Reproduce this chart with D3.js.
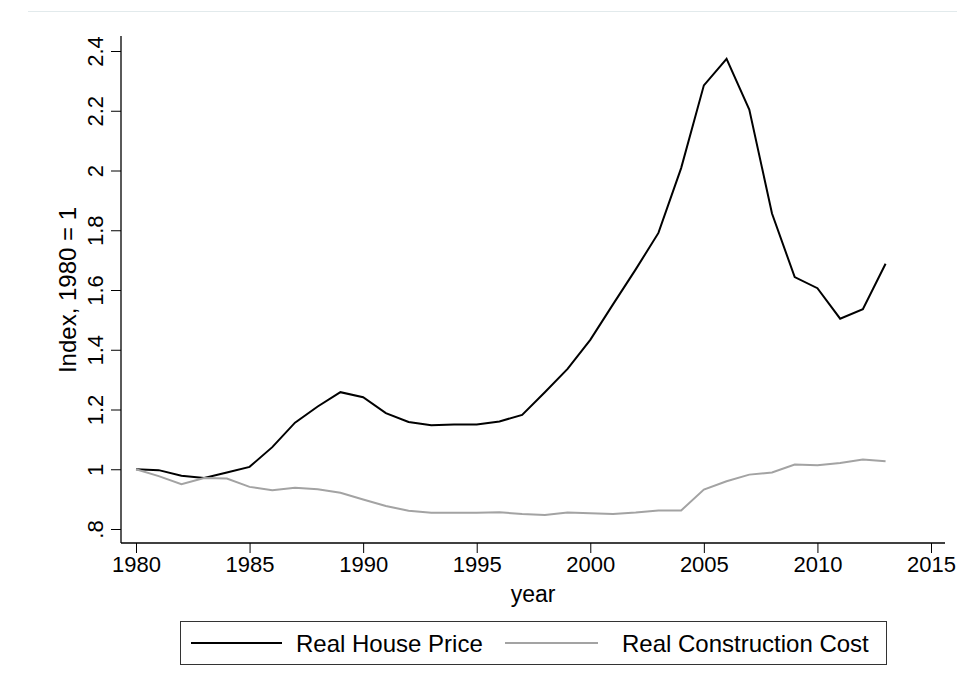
<!DOCTYPE html>
<html>
<head>
<meta charset="utf-8">
<script src="https://cdn.jsdelivr.net/npm/d3@7"></script>
<style>
  html, body { margin: 0; padding: 0; background: #fff; }
  svg { display: block; font-family: "Liberation Sans", Arial, sans-serif; }
</style>
</head>
<body>
<svg id="chart" width="957" height="689"></svg>
<script>
// ---- data ----
const years = [1980,1981,1982,1983,1984,1985,1986,1987,1988,1989,1990,1991,1992,1993,1994,1995,1996,1997,1998,1999,2000,2001,2002,2003,2004,2005,2006,2007,2008,2009,2010,2011,2012,2013];
const housePrice = [1.000,0.997,0.978,0.971,0.989,1.008,1.074,1.156,1.210,1.258,1.241,1.188,1.158,1.147,1.150,1.150,1.160,1.182,1.258,1.336,1.433,1.552,1.669,1.791,2.008,2.285,2.374,2.204,1.856,1.643,1.606,1.504,1.536,1.688];
const constructionCost = [1.000,0.977,0.950,0.971,0.969,0.941,0.930,0.938,0.933,0.921,0.899,0.877,0.861,0.854,0.854,0.854,0.856,0.850,0.847,0.855,0.853,0.850,0.855,0.862,0.862,0.932,0.960,0.982,0.989,1.016,1.013,1.021,1.033,1.027];
const xTicks = [1980,1985,1990,1995,2000,2005,2010,2015];
const yTicks = [0.8,1.0,1.2,1.4,1.6,1.8,2.0,2.2,2.4];
const yTickLabels = [".8","1","1.2","1.4","1.6","1.8","2","2.2","2.4"];
const seriesNames = ["Real House Price","Real Construction Cost"];
const seriesColors = ["#000000","#a3a3a3"];

// ---- layout ----
const svg = d3.select("#chart");
const plot = {left: 121, right: 945, top: 36, bottom: 543};
const x = d3.scaleLinear().domain([1980, 2015]).range([136, 931]);
const y = d3.scaleLinear().domain([0.8, 2.4]).range([529, 51]);
const FONT = "'Liberation Sans', Arial, sans-serif";

// faint top border line
svg.append("line").attr("x1", 28).attr("x2", 957).attr("y1", 11.5).attr("y2", 11.5)
  .attr("stroke", "#e2eaec").attr("stroke-width", 1);

// axis lines
svg.append("line").attr("x1", plot.left).attr("x2", plot.left).attr("y1", plot.top).attr("y2", plot.bottom)
  .attr("stroke", "#000").attr("stroke-width", 1.3);
svg.append("line").attr("x1", plot.left).attr("x2", plot.right).attr("y1", plot.bottom).attr("y2", plot.bottom)
  .attr("stroke", "#000").attr("stroke-width", 1.3);

// y axis
const yAxis = svg.append("g").attr("transform", `translate(${plot.left},0)`)
  .call(d3.axisLeft(y).tickValues(yTicks).tickSize(10)
    .tickFormat((d, i) => yTickLabels[i]));
yAxis.select(".domain").remove();
yAxis.selectAll(".tick line").attr("stroke", "#000").attr("stroke-width", 1);
yAxis.selectAll(".tick text")
  .attr("x", null).attr("dy", null).attr("y", null)
  .attr("transform", "translate(-18,0) rotate(-90)")
  .attr("text-anchor", "middle")
  .attr("font-size", 22).attr("fill", "#000")
  .style("font-family", FONT);

// x axis
const xAxis = svg.append("g").attr("transform", `translate(0,${plot.bottom})`)
  .call(d3.axisBottom(x).tickValues(xTicks).tickSize(10).tickPadding(3).tickFormat(d3.format("d")));
xAxis.select(".domain").remove();
xAxis.selectAll(".tick line").attr("stroke", "#000").attr("stroke-width", 1);
xAxis.selectAll(".tick text").attr("font-size", 22).attr("fill", "#000")
  .style("font-family", FONT);

// axis titles
svg.append("text").attr("x", (plot.left + plot.right) / 2).attr("y", 602)
  .attr("text-anchor", "middle").attr("font-size", 23).text("year");
svg.append("text").attr("transform", `translate(76,${(y(0.8) + y(2.4)) / 2}) rotate(-90)`)
  .attr("text-anchor", "middle").attr("font-size", 24).text("Index, 1980 = 1");

// lines
const line = d3.line().x((d, i) => x(years[i])).y(d => y(d));
[housePrice, constructionCost].forEach((s, k) => {
  svg.append("path").datum(s).attr("d", line)
    .attr("fill", "none").attr("stroke", seriesColors[k]).attr("stroke-width", 2)
    .attr("stroke-linejoin", "miter");
});

// legend
const lg = svg.append("g");
lg.append("rect").attr("x", 180.5).attr("y", 621.5).attr("width", 706).attr("height", 43)
  .attr("fill", "#fff").attr("stroke", "#333").attr("stroke-width", 1);
const legendItems = [{x1: 191, x2: 282, tx: 296}, {x1: 505, x2: 598, tx: 622}];
legendItems.forEach((it, k) => {
  lg.append("line").attr("x1", it.x1).attr("x2", it.x2).attr("y1", 643).attr("y2", 643)
    .attr("stroke", seriesColors[k]).attr("stroke-width", 2);
  lg.append("text").attr("x", it.tx).attr("y", 652).attr("font-size", 24).text(seriesNames[k]);
});
</script>
</body>
</html>
